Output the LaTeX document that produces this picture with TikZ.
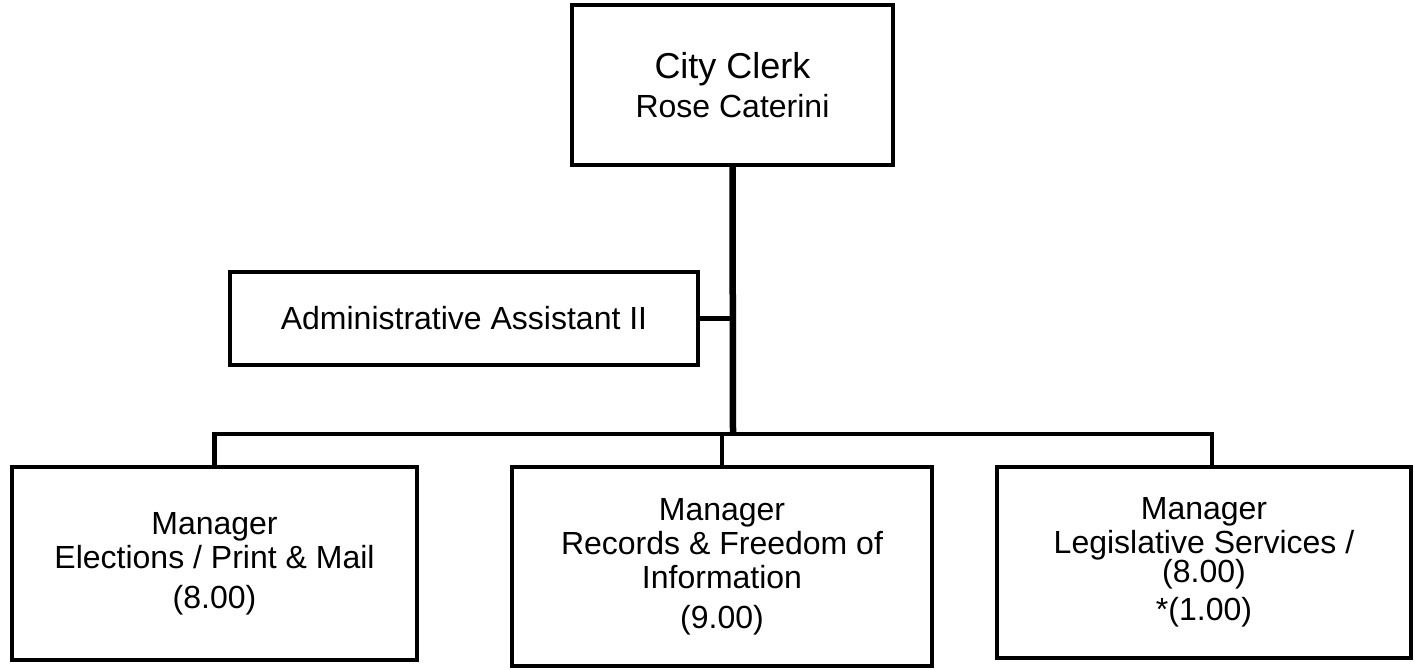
\documentclass[tikz,border=0pt]{standalone}
\usepackage{fontspec}
\setmainfont{Liberation Sans}
\usepackage{tikz}

\begin{document}
\begin{tikzpicture}[x=1pt, y=-1pt,
    post/.style={rectangle, draw, line width=4pt, inner sep=0pt, align=center, font=\fontsize{32}{34}\selectfont},
    link/.style={line width=4.5pt},
    trunk/.style={line width=6.5pt}]
  \useasboundingbox (0,0) rectangle (1415,669);
  \node (clerk) [post, minimum width=321pt, minimum height=160pt] at (732.5,85) {{\fontsize{36}{36}\selectfont City Clerk}\\[5pt] Rose Caterini};
  \node (assistant) [post, minimum width=468pt, minimum height=93pt] at (464,318.5) {Administrative Assistant II};
  \node (elections) [post, minimum width=405pt, minimum height=193pt] at (214.5,563.5) {Manager\\ Elections / Print \& Mail\\[6pt] (8.00)};
  \node (records) [post, minimum width=420pt, minimum height=199pt] at (722,566.5) {Manager\\ Records \& Freedom of\\ Information\\[6pt] (9.00)};
  \node (legislative) [post, minimum width=414pt, minimum height=191pt] at (1204,562.5) {Manager\\ Legislative Services /\\[-5pt] (8.00)\\[4pt] *(1.00)};
  \coordinate (bus) at (733,434);
  \draw[trunk] (clerk.south) -- (bus);
  \draw[link] (assistant.east) -- (assistant.east -| bus);
  \draw[link] (elections.north) |- (bus) -| ([xshift=8pt]legislative.north);
  \draw[link] (records.north) -- (records.north |- bus);
\end{tikzpicture}
\end{document}
